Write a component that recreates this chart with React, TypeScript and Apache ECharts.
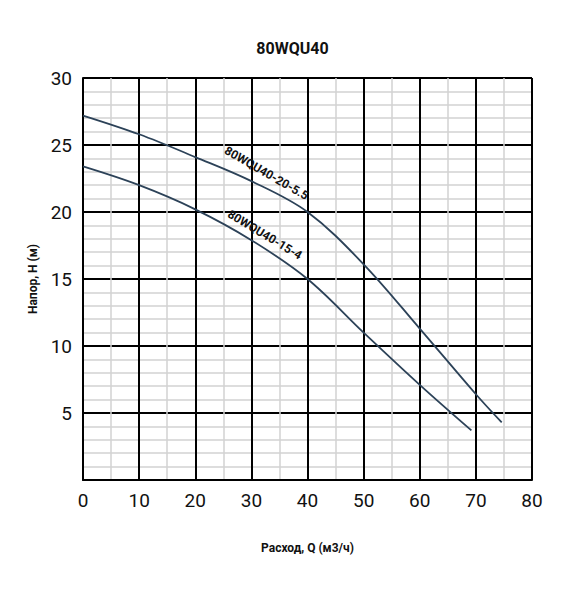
import React, { useEffect, useRef } from "react";
import * as echarts from "echarts";

const TITLE = "80WQU40";
const X_NAME = "Расход, Q (м3/ч)";
const Y_NAME = "Напор, H (м)";

const curveA_name = "80WQU40-20-5.5";
const curveA_q = [0, 10, 20, 30, 40, 50, 60, 70, 74.6];
const curveA_h = [27.2, 25.8, 24.1, 22.3, 20.0, 16.1, 11.3, 6.4, 4.3];

const curveB_name = "80WQU40-15-4";
const curveB_q = [0, 10, 20, 30, 40, 50, 60, 69.2];
const curveB_h = [23.4, 22.0, 20.2, 17.9, 15.0, 11.0, 7.1, 3.7];

const labelA_pos = [32.7, 22.9];
const labelB_pos = [32.4, 18.3];

const FONT = "Roboto, 'Liberation Sans', sans-serif";
const LINE_COLOR = "#2c4258";

export default function App() {
  const ref = useRef<HTMLDivElement>(null);
  useEffect(() => {
    if (!ref.current) return;
    const chart = echarts.init(ref.current, null, { renderer: "svg" });
    const mk = (q: number[], h: number[]) => q.map((v, i) => [v, h[i]]);
    const lbl = (text: string, rot: number) => ({
      show: true,
      formatter: text,
      position: "inside",
      rotate: rot,
      fontFamily: FONT,
      fontWeight: "bold",
      fontSize: 12,
      color: "#111",
    });
    chart.setOption({
      animation: false,
      backgroundColor: "#ffffff",
      title: {
        text: TITLE,
        left: "center",
        top: 35,
        textStyle: { fontFamily: FONT, fontWeight: "bold", fontSize: 16, color: "#111" },
      },
      grid: { left: 83, right: 53, top: 78, bottom: 120, containLabel: false },
      xAxis: {
        type: "value",
        min: 0,
        max: 80,
        interval: 10,
        name: X_NAME,
        nameLocation: "middle",
        nameGap: 62,
        nameTextStyle: { fontFamily: FONT, fontWeight: "bold", fontSize: 12, color: "#111" },
        axisLine: { show: true, lineStyle: { color: "#000", width: 2 } },
        axisTick: { show: false },
        axisLabel: { fontFamily: FONT, fontSize: 19, color: "#111", margin: 11 },
        splitLine: { show: true, lineStyle: { color: "#000", width: 2 } },
        minorTick: { show: false, splitNumber: 2 },
        minorSplitLine: { show: true, lineStyle: { color: "#d2d2d2", width: 1.5 } },
      },
      yAxis: {
        type: "value",
        min: 0,
        max: 30,
        interval: 5,
        name: Y_NAME,
        nameLocation: "middle",
        nameGap: 44,
        nameRotate: 90,
        nameTextStyle: { fontFamily: FONT, fontWeight: "bold", fontSize: 12, color: "#111" },
        axisLine: { show: true, lineStyle: { color: "#000", width: 2 } },
        axisTick: { show: false },
        axisLabel: {
          fontFamily: FONT,
          fontSize: 19,
          color: "#111",
          margin: 11,
          formatter: (v: number) => (v === 0 ? "" : String(v)),
        },
        splitLine: { show: true, lineStyle: { color: "#000", width: 2 } },
        minorTick: { show: false, splitNumber: 5 },
        minorSplitLine: { show: true, lineStyle: { color: "#d2d2d2", width: 1.5 } },
      },
      series: [
        {
          type: "line",
          name: curveA_name,
          data: mk(curveA_q, curveA_h),
          smooth: 0.35,
          symbol: "none",
          lineStyle: { color: LINE_COLOR, width: 1.8 },
          markPoint: {
            symbol: "circle",
            symbolSize: 0,
            data: [{ coord: labelA_pos, label: lbl(curveA_name, -30) }],
          },
        },
        {
          type: "line",
          name: curveB_name,
          data: mk(curveB_q, curveB_h),
          smooth: 0.35,
          symbol: "none",
          lineStyle: { color: LINE_COLOR, width: 1.8 },
          markPoint: {
            symbol: "circle",
            symbolSize: 0,
            data: [{ coord: labelB_pos, label: lbl(curveB_name, -31) }],
          },
        },
      ],
    });
    return () => chart.dispose();
  }, []);
  return <div ref={ref} style={{ width: 585, height: 600, marginLeft: -8, marginTop: -8 }} />;
}
